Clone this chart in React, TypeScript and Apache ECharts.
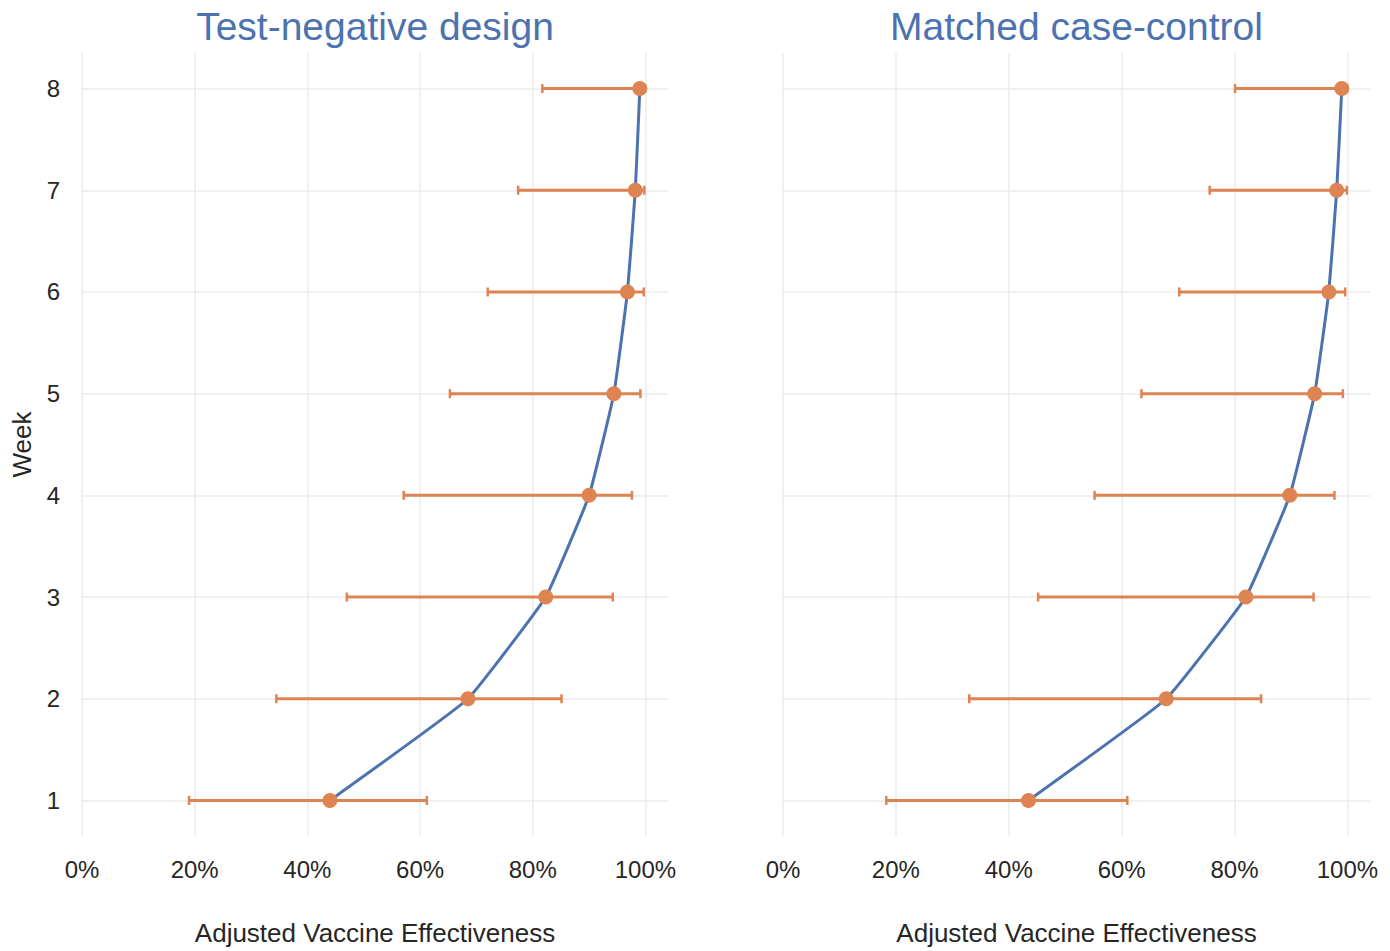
import React, { useEffect, useRef } from "react";
import * as echarts from "echarts";

const weeks = [1, 2, 3, 4, 5, 6, 7, 8];
const xTicks = [0, 20, 40, 60, 80, 100];

const tndVE = [44.0, 68.5, 82.3, 90.0, 94.4, 96.8, 98.2, 99.0];
const tndLower = [19.0, 34.5, 47.0, 57.1, 65.3, 72.0, 77.4, 81.7];
const tndUpper = [61.2, 85.1, 94.2, 97.6, 99.1, 99.7, 99.8, 99.9];

const mccVE = [43.5, 67.9, 82.0, 89.8, 94.2, 96.7, 98.1, 99.0];
const mccLower = [18.3, 33.0, 45.2, 55.2, 63.5, 70.2, 75.6, 80.1];
const mccUpper = [61.0, 84.7, 94.0, 97.7, 99.2, 99.6, 99.9, 99.95];

const panelTitles = ["Test-negative design", "Matched case-control"];
const xName = "Adjusted Vaccine Effectiveness";
const yName = "Week";

const BLUE = "#4c72b0";
const ORANGE = "#dd8452";
const TEXT = "#262626";
const GRIDC = "#ebebeb";
const FONT = "'Liberation Sans', Arial, Helvetica, sans-serif";

const GRID_TOP = 53;
const GRID_H = 790;
const GRIDS = [
  { left: 82, width: 586 },
  { left: 783, width: 587 },
];

function errorBars(lower: number[], upper: number[], idx: number) {
  return {
    type: "custom",
    xAxisIndex: idx,
    yAxisIndex: idx,
    z: 1,
    data: weeks.map((w, i) => [lower[i], upper[i], w]),
    encode: { x: [0, 1], y: 2 },
    renderItem: (params: any, api: any) => {
      const lo = api.coord([api.value(0), api.value(2)]);
      const hi = api.coord([api.value(1), api.value(2)]);
      const h = 4.5;
      return {
        type: "group",
        children: [
          {
            type: "line",
            shape: { x1: lo[0], y1: lo[1], x2: hi[0], y2: hi[1] },
            style: { stroke: ORANGE, lineWidth: 3 },
          },
          {
            type: "line",
            shape: { x1: lo[0], y1: lo[1] - h, x2: lo[0], y2: lo[1] + h },
            style: { stroke: ORANGE, lineWidth: 2.5 },
          },
          {
            type: "line",
            shape: { x1: hi[0], y1: hi[1] - h, x2: hi[0], y2: hi[1] + h },
            style: { stroke: ORANGE, lineWidth: 2.5 },
          },
        ],
      };
    },
  };
}

function lineSeries(ve: number[], idx: number) {
  return {
    type: "line",
    xAxisIndex: idx,
    yAxisIndex: idx,
    z: 2,
    data: weeks.map((w, i) => [ve[i], w]),
    showSymbol: false,
    smooth: 0.1,
    lineStyle: { color: BLUE, width: 3 },
  };
}

function pointSeries(ve: number[], idx: number) {
  return {
    type: "scatter",
    xAxisIndex: idx,
    yAxisIndex: idx,
    z: 3,
    data: weeks.map((w, i) => [ve[i], w]),
    symbolSize: 15,
    itemStyle: { color: ORANGE, opacity: 1 },
  };
}

export default function App() {
  const ref = useRef<HTMLDivElement>(null);

  useEffect(() => {
    if (!ref.current) return;
    const chart = echarts.init(ref.current, undefined, { renderer: "svg" });

    const xAxes = GRIDS.map((_, i) => ({
      type: "value",
      gridIndex: i,
      min: 0,
      max: 104,
      interval: 20,
      name: xName,
      nameLocation: "middle",
      nameGap: 84,
      nameTextStyle: { fontSize: 26, color: TEXT, fontFamily: FONT },
      axisLine: { show: false },
      axisTick: { show: false },
      axisLabel: {
        show: true,
        fontSize: 24,
        color: TEXT,
        fontFamily: FONT,
        margin: 21,
        showMaxLabel: false,
        formatter: (v: number) => (xTicks.includes(v) ? v + "%" : ""),
      },
      splitLine: {
        show: true,
        showMaxLine: false,
        lineStyle: { color: GRIDC, width: 1.5 },
      },
    }));

    const yAxes = GRIDS.map((_, i) => ({
      type: "value",
      gridIndex: i,
      min: 0.65,
      max: 8.35,
      splitNumber: 8,
      minInterval: 1,
      maxInterval: 1,
      name: i === 0 ? yName : "",
      nameLocation: "middle",
      nameGap: 47,
      nameRotate: 90,
      nameTextStyle: { fontSize: 26, color: TEXT, fontFamily: FONT },
      axisLine: { show: false },
      axisTick: { show: false },
      axisLabel: {
        show: i === 0,
        fontSize: 24,
        color: TEXT,
        fontFamily: FONT,
        margin: 22,
        showMinLabel: false,
        showMaxLabel: false,
        formatter: (v: number) => (weeks.includes(v) ? String(v) : ""),
      },
      splitLine: {
        show: true,
        showMinLine: false,
        showMaxLine: false,
        lineStyle: { color: GRIDC, width: 1.5 },
      },
    }));

    chart.setOption({
      animation: false,
      backgroundColor: "#ffffff",
      textStyle: { fontFamily: FONT },
      grid: GRIDS.map((g) => ({
        left: g.left,
        top: GRID_TOP,
        width: g.width,
        height: GRID_H,
        containLabel: false,
      })),
      xAxis: xAxes,
      yAxis: yAxes,
      graphic: GRIDS.map((g, i) => ({
        type: "text",
        x: g.left + g.width / 2,
        y: 26,
        style: {
          text: panelTitles[i],
          fontSize: 39,
          fontFamily: FONT,
          fill: BLUE,
          align: "center",
          verticalAlign: "middle",
        },
      })),
      series: [
        errorBars(tndLower, tndUpper, 0),
        lineSeries(tndVE, 0),
        pointSeries(tndVE, 0),
        errorBars(mccLower, mccUpper, 1),
        lineSeries(mccVE, 1),
        pointSeries(mccVE, 1),
      ],
    });

    return () => chart.dispose();
  }, []);

  return (
    <div
      ref={ref}
      style={{ position: "fixed", left: 0, top: 0, width: 1390, height: 951, background: "#fff" }}
    />
  );
}
